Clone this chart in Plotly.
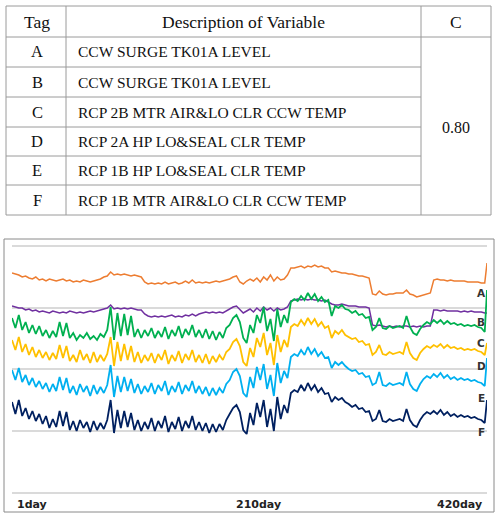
import plotly.graph_objects as go

W, H = 496, 522

# ---------------- data ----------------
header = ["Tag", "Description of Variable", "C"]
tags = ["A", "B", "C", "D", "E", "F"]
descriptions = [
    "CCW SURGE TK01A LEVEL",
    "CCW SURGE TK01A LEVEL",
    "RCP 2B MTR AIR&LO CLR CCW TEMP",
    "RCP 2A HP LO&SEAL CLR TEMP",
    "RCP 1B HP LO&SEAL CLR TEMP",
    "RCP 1B MTR AIR&LO CLR CCW TEMP",
]
c_value = "0.80"

days = list(range(1, 419, 3)) + [420]

series_A = [
    220, 219, 218, 216, 217, 215, 214, 216, 213, 214,
    212, 214, 213, 212, 213, 214, 212, 213, 211, 212,
    211, 213, 212, 211, 212, 213, 214, 216, 217, 221,
    218, 219, 218, 219, 218, 217, 218, 217, 216, 211,
    209, 210, 209, 210, 209, 211, 209, 210, 211, 209,
    210, 212, 210, 213, 210, 211, 210, 211, 210, 211,
    212, 211, 212, 213, 214, 216, 217, 211, 209, 212,
    214, 212, 215, 211, 216, 213, 218, 212, 216, 213,
    214, 218, 225, 225, 226, 227, 225, 227, 226, 228,
    226, 227, 225, 225, 221, 222, 221, 220, 220, 219,
    219, 218, 217, 217, 216, 215, 199, 198, 202, 199,
    198, 199, 199, 200, 200, 200, 203, 199, 198, 196,
    197, 198, 199, 200, 213, 214, 213, 213, 212, 213,
    212, 212, 212, 212, 211, 211, 211, 211, 210, 210,
    230,
]

series_B = [
    187, 186, 185, 185, 183, 184, 182, 183, 181, 182,
    181, 180, 182, 181, 180, 181, 180, 182, 181, 180,
    181, 180, 181, 182, 181, 182, 183, 184, 185, 188,
    184, 185, 184, 185, 184, 185, 184, 183, 183, 179,
    177, 176, 177, 176, 177, 176, 177, 178, 176, 177,
    176, 178, 177, 179, 177, 179, 180, 181, 180, 181,
    180, 181, 180, 182, 184, 186, 187, 184, 180, 182,
    184, 181, 185, 182, 186, 183, 185, 182, 185, 183,
    184, 186, 192, 193, 194, 193, 194, 193, 194, 193,
    193, 192, 193, 191, 189, 188, 188, 189, 188, 187,
    187, 187, 186, 186, 186, 185, 168, 167, 168, 167,
    166, 167, 166, 167, 166, 167, 167, 166, 167, 166,
    167, 166, 167, 167, 183, 183, 182, 183, 182, 182,
    182, 182, 181, 182, 181, 182, 181, 181, 181, 180,
    180,
]

series_C = [
    175, 165, 178, 163, 171, 160, 168, 159, 167, 157,
    163, 155, 162, 156, 171, 157, 170, 155, 160, 153,
    158, 155, 160, 154, 157, 153, 159, 156, 163, 186,
    153, 180, 157, 179, 158, 177, 156, 164, 155, 163,
    157, 165, 155, 162, 156, 166, 154, 163, 157, 167,
    155, 164, 158, 168, 156, 163, 155, 164, 154, 162,
    153, 161, 155, 165, 168, 175, 178, 171, 155, 150,
    168, 160, 178, 170, 186, 162, 174, 152, 184, 166,
    178, 170, 191, 194, 192, 197, 193, 200, 194, 199,
    192, 196, 191, 193, 177, 187, 185, 188, 184, 183,
    180, 182, 178, 179, 175, 176, 163, 166, 175, 165,
    164, 167, 165, 166, 167, 165, 177, 166, 160, 158,
    164, 168, 171, 169, 173, 170, 173, 169, 172, 169,
    170, 168, 169, 167, 168, 167, 168, 166, 165, 161,
    203,
]

series_D = [
    153, 143, 156, 141, 149, 138, 146, 136, 143, 135,
    141, 133, 140, 134, 148, 135, 147, 132, 138, 131,
    143, 133, 139, 130, 141, 131, 138, 132, 139, 156,
    127, 151, 132, 149, 133, 147, 131, 141, 130, 138,
    132, 140, 130, 139, 133, 143, 129, 138, 132, 142,
    130, 139, 133, 143, 131, 138, 130, 139, 129, 137,
    131, 138, 133, 141, 144, 151, 154, 147, 131, 127,
    145, 136, 155, 146, 160, 138, 150, 128, 158, 141,
    153, 146, 166, 169, 167, 173, 168, 175, 169, 174,
    167, 171, 165, 167, 155, 162, 159, 163, 158, 156,
    154, 155, 151, 152, 148, 149, 138, 141, 148, 139,
    138, 141, 139, 140, 141, 139, 151, 140, 135, 133,
    140, 144, 147, 145, 148, 146, 149, 145, 148, 145,
    146, 144, 145, 143, 144, 143, 144, 142, 141, 138,
    150,
]

series_E = [
    123, 113, 125, 111, 118, 108, 115, 106, 112, 104,
    110, 101, 109, 102, 116, 103, 115, 100, 107, 98,
    109, 101, 107, 97, 108, 99, 106, 100, 108, 128,
    96, 117, 101, 116, 102, 114, 100, 109, 99, 107,
    101, 110, 99, 108, 102, 112, 98, 107, 101, 111,
    99, 108, 102, 112, 100, 107, 99, 106, 97, 105,
    98, 105, 100, 109, 113, 121, 124, 117, 100, 96,
    116, 105, 126, 113, 129, 104, 118, 97, 130, 110,
    122, 115, 136, 139, 137, 143, 138, 146, 139, 144,
    137, 141, 135, 136, 125, 131, 128, 131, 127, 124,
    122, 123, 119, 120, 116, 117, 108, 110, 121, 108,
    107, 110, 108, 109, 110, 108, 121, 109, 104, 102,
    109, 114, 117, 115, 119, 116, 120, 115, 118, 114,
    116, 113, 115, 113, 114, 112, 113, 111, 110, 107,
    135,
]

series_F = [
    91, 79, 93, 77, 85, 74, 82, 72, 79, 69,
    77, 65, 74, 66, 82, 67, 81, 63, 72, 62,
    73, 65, 71, 61, 72, 63, 70, 64, 73, 93,
    60, 83, 65, 82, 66, 80, 63, 73, 62, 71,
    64, 75, 62, 72, 65, 77, 61, 71, 64, 76,
    62, 72, 65, 77, 63, 71, 62, 70, 60, 69,
    61, 69, 63, 73, 79, 85, 88, 81, 63, 59,
    80, 68, 90, 76, 93, 66, 84, 62, 96, 74,
    88, 80, 100, 103, 101, 108, 102, 110, 103, 108,
    101, 105, 99, 100, 91, 96, 93, 95, 91, 89,
    86, 88, 84, 85, 81, 82, 72, 74, 83, 72,
    71, 74, 72, 73, 74, 72, 84, 73, 68, 66,
    73, 78, 81, 79, 82, 79, 83, 78, 81, 77,
    79, 76, 78, 76, 77, 75, 76, 74, 73, 70,
    93,
]

grid_levels = [0, 62, 124, 185, 247]
x_tick_days = [1, 210, 420]
x_tick_labels = ["1day", "210day", "420day"]

# ---------------- styles / positions ----------------
series = {"A": series_A, "B": series_B, "C": series_C,
          "D": series_D, "E": series_E, "F": series_F}
colors = {"A": "#ED7D31", "B": "#7030A0", "C": "#00B050",
          "D": "#FFC000", "E": "#00B0F0", "F": "#002060"}
widths = {"A": 1.5, "B": 1.5, "C": 1.8, "D": 1.8, "E": 1.8, "F": 1.8}
draw_order = ["B", "A", "C", "D", "E", "F"]
label_y = {"A": 200, "B": 171, "C": 150, "D": 127, "E": 95, "F": 61}


def px(x):
    return x / W


def py(y):
    return 1 - y / H


fig = go.Figure()
for k in draw_order:
    fig.add_trace(go.Scatter(
        x=days, y=series[k], mode="lines",
        line=dict(color=colors[k], width=widths[k]),
        hoverinfo="skip", showlegend=False,
    ))

shapes = []
line_col = "#9a9a9a"
# table
shapes.append(dict(type="rect", xref="paper", yref="paper",
                   x0=px(6), x1=px(491), y0=py(6), y1=py(215),
                   line=dict(color=line_col, width=1)))
for xv in (66, 421):
    shapes.append(dict(type="line", xref="paper", yref="paper",
                       x0=px(xv), x1=px(xv), y0=py(6), y1=py(215),
                       line=dict(color=line_col, width=1)))
shapes.append(dict(type="line", xref="paper", yref="paper",
                   x0=px(6), x1=px(491), y0=py(37), y1=py(37),
                   line=dict(color=line_col, width=1)))
for yv in (67, 97, 127, 156, 185):
    shapes.append(dict(type="line", xref="paper", yref="paper",
                       x0=px(6), x1=px(421), y0=py(yv), y1=py(yv),
                       line=dict(color=line_col, width=1)))
# chart frame
shapes.append(dict(type="rect", xref="paper", yref="paper",
                   x0=px(4), x1=px(494), y0=py(239), y1=py(512),
                   line=dict(color="#8a8a8a", width=1), layer="below"))

ann = []
serif = "Liberation Serif, Times New Roman, serif"
hdr_x = [37, 243, 456]
for t, xv in zip(header, hdr_x):
    ann.append(dict(text=t, x=px(xv), y=py(22), xref="paper", yref="paper",
                    showarrow=False, xanchor="center", yanchor="middle",
                    font=dict(family=serif, size=17.5, color="#111")))
row_y = [52, 82, 112, 141.5, 170.5, 200]
for t, d, yv in zip(tags, descriptions, row_y):
    ann.append(dict(text=t, x=px(37), y=py(yv), xref="paper", yref="paper",
                    showarrow=False, xanchor="center", yanchor="middle",
                    font=dict(family=serif, size=16.5, color="#111")))
    ann.append(dict(text=d, x=px(76), y=py(yv), xref="paper", yref="paper",
                    showarrow=False, xanchor="left", yanchor="middle",
                    font=dict(family=serif, size=15.5, color="#111")))
ann.append(dict(text=c_value, x=px(456), y=py(127), xref="paper", yref="paper",
                showarrow=False, xanchor="center", yanchor="middle",
                font=dict(family=serif, size=16, color="#111")))

sans_b = "DejaVu Sans, Verdana, sans-serif"
anchors = ["left", "center", "right"]
shifts = [3, 10, -3]
for d, lab, a, s in zip(x_tick_days, x_tick_labels, anchors, shifts):
    ann.append(dict(text="<b>" + lab + "</b>", x=d, y=py(504), xref="x", yref="paper",
                    showarrow=False, xanchor=a, yanchor="middle", xshift=s,
                    font=dict(family=sans_b, size=11, color="#222")))
for k in tags:
    ann.append(dict(text="<b>" + k + "</b>", x=415, y=label_y[k], xref="x", yref="y",
                    showarrow=False, xanchor="center", yanchor="middle",
                    font=dict(family=sans_b, size=10.5, color="#333")))

fig.update_layout(
    width=W, height=H,
    margin=dict(l=0, r=0, t=0, b=0),
    paper_bgcolor="white", plot_bgcolor="white",
    showlegend=False,
    xaxis=dict(domain=[px(12), px(487)], range=[1, 420], showgrid=False,
               showticklabels=False, zeroline=False, showline=False, ticks=""),
    yaxis=dict(domain=[py(512), py(240)], range=[-19, 253], tickvals=grid_levels,
               showticklabels=False, showgrid=True, gridcolor="#dadada",
               gridwidth=1.5, zeroline=False, showline=False, ticks=""),
    shapes=shapes, annotations=ann,
)

fig.write_html("out.html", config={"displayModeBar": False})
